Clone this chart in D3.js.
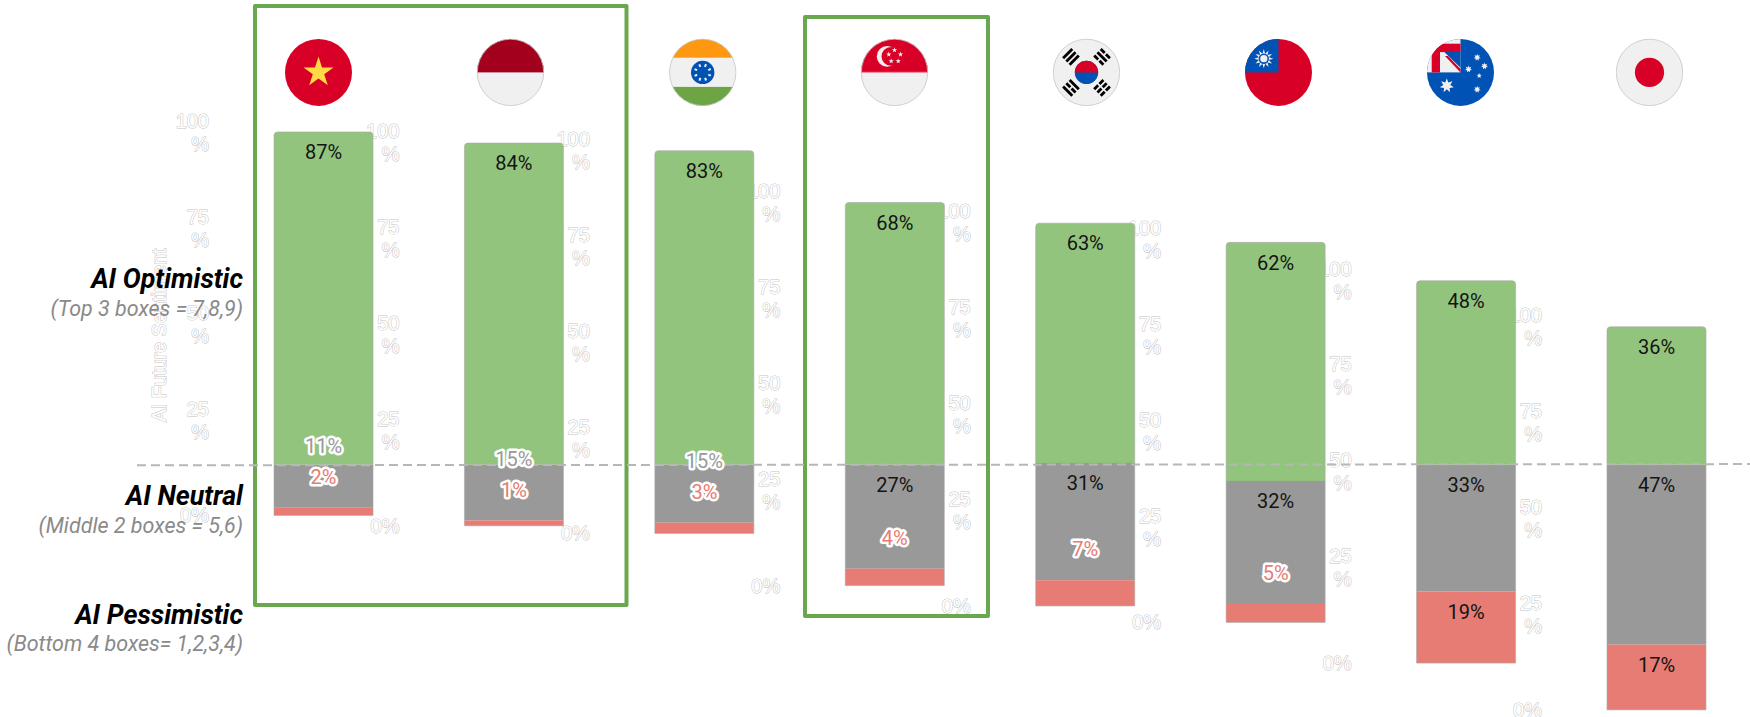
<!DOCTYPE html>
<html>
<head>
<meta charset="utf-8">
<title>AI Future Sentiment</title>
<script src="https://cdn.jsdelivr.net/npm/d3@7"></script>
<style>
  html, body { margin: 0; padding: 0; background: #fff; }
  svg { display: block; }
  .tick-text, .axis-title { font-family: "Liberation Sans", sans-serif; fill: #fff; stroke: #c4c4c4; stroke-width: 1px; paint-order: stroke; }
  .bar-label { font-family: Roboto, sans-serif; font-size: 20px; text-anchor: middle; fill: #141414; }
  .bar-label.halo { stroke: #fff; stroke-width: 5px; stroke-linejoin: round; paint-order: stroke; }
</style>
</head>
<body>
<div id="container"></div>
<script>
/* DATA */
const categories = ["Vietnam", "Indonesia", "India", "Singapore", "South Korea", "Taiwan", "Australia", "Japan"]
const optimistic = [86.8, 83.9, 81.9, 68.4, 62.5, 62.2, 48.0, 36.0]
const neutral = [11.2, 14.5, 15.1, 27.1, 30.6, 32.1, 33.0, 46.9]
const pessimistic = [2.0, 1.4, 2.8, 4.4, 6.7, 4.8, 18.7, 17.0]
const optimisticLabels = ["87%", "84%", "83%", "68%", "63%", "62%", "48%", "36%"]
const neutralLabels = ["11%", "15%", "15%", "27%", "31%", "32%", "33%", "47%"]
const pessimisticLabels = ["2%", "1%", "3%", "4%", "7%", "5%", "19%", "17%"]
// how far (in % points) each stack hangs off the dashed line, most of them sit right on it
const lineOffset = [0, 0, 0, 0, -0.5, 4.2, 0, 0]
const axisTicks = [0, 25, 50, 75, 100]
const sentimentTitles = ["AI Optimistic", "AI Neutral", "AI Pessimistic"]
const sentimentNotes = ["(Top 3 boxes = 7,8,9)", "(Middle 2 boxes = 5,6)", "(Bottom 4 boxes= 1,2,3,4)"]
const axisTitle = "AI Future Sentiment"

/* CONSTANTS AND GLOBALS */
const width = 1750
const height = 717
const lineY = 464.8
const fullBar = 383.5 // px for 100%
const green = "#93c47d", gray = "#999999", red = "#e67c73"
const flagX = [318.5, 510.5, 702.7, 894.5, 1086.5, 1278.5, 1460.5, 1649.5]
const flagY = 72.4
const flagR = 33.5

const svg = d3.select("#container")
  .append("svg")
  .attr("width", width)
  .attr("height", height)

/* SCALES */
const xScale = d3.scaleBand()
  .domain(categories)
  .range([274, 1706])
  .paddingInner(.48)

const barHeight = d3.scaleLinear()
  .domain([0, 100])
  .range([0, fullBar])

// every country gets its own y scale because the stacks are shifted around the line
const bottoms = categories.map((c, i) => lineY + barHeight(neutral[i] + pessimistic[i] + lineOffset[i]))
const yScales = bottoms.map(b => d3.scaleLinear().domain([0, 100]).range([b, b - fullBar]))

/* AXES */
const axisLayer = svg.append("g")
categories.forEach((c, i) => {
  const axis = d3.axisLeft(yScales[i])
    .tickValues(axisTicks)
    .tickSize(0)
    .tickPadding(0)
    .tickFormat(d => d + "%")

  const g = axisLayer.append("g")
    .attr("transform", `translate(${xScale(c) - 65},0)`)
    .call(axis)
    .attr("font-family", null)
    .attr("font-size", null)
  g.select(".domain").remove()

  // labels wider than the axis space wrap, the % falls on a second line
  g.selectAll(".tick text")
    .attr("class", "tick-text")
    .style("font-size", "20px")
    .attr("dy", null)
    .each(function (d) {
      const t = d3.select(this).text("")
      if (d === 0) {
        t.append("tspan").attr("x", 0).attr("dy", 6.5).text("0%")
      } else {
        t.append("tspan").attr("x", 0).attr("dy", -4.5).text(d)
        t.append("tspan").attr("x", 0).attr("dy", 23).text("%")
      }
    })
})

svg.append("text")
  .attr("class", "axis-title")
  .attr("transform", "translate(166,422) rotate(-90)")
  .style("font-size", "19.5px")
  .text(axisTitle)

/* FLAGS */
const star = (n, R, r, cx = 0, cy = 0) => d3.range(n * 2).map(k => {
  const a = Math.PI * k / n - Math.PI / 2
  const rad = k % 2 ? r : R
  return [cx + rad * Math.cos(a), cy + rad * Math.sin(a)].join(",")
}).join(" ")

const flagDefs = svg.append("defs")
flagDefs.append("clipPath").attr("id", "flag-clip")
  .append("circle").attr("r", flagR)

const flagColors = { red: "#d80027", blue: "#0052b4", white: "#f0f0f0", yellow: "#ffda44", orange: "#ff9811", leaf: "#6da544", maroon: "#a2001d" }

const drawFlag = {
  Vietnam: g => {
    g.append("rect").call(box, -34, -34, 68, 68, flagColors.red)
    g.append("polygon").attr("points", star(5, 15.8, 6)).attr("fill", flagColors.yellow)
  },
  Indonesia: g => {
    g.append("rect").call(box, -34, -34, 68, 68, flagColors.white)
    g.append("rect").call(box, -34, -34, 68, 34, flagColors.maroon)
  },
  India: g => {
    g.append("rect").call(box, -34, -34, 68, 68, flagColors.white)
    g.append("rect").call(box, -34, -34, 68, 19.3, flagColors.orange)
    g.append("rect").call(box, -34, 14.5, 68, 20, flagColors.leaf)
    g.append("circle").attr("r", 11.7).attr("fill", flagColors.blue)
    d3.range(8).forEach(k => {
      g.append("rect").call(box, -1, -8.8, 2, 2.8, flagColors.white)
        .attr("transform", `rotate(${k * 45 + 22})`)
    })
  },
  Singapore: g => {
    g.append("rect").call(box, -34, -34, 68, 68, flagColors.white)
    g.append("rect").call(box, -34, -34, 68, 34, flagColors.red)
    g.append("rect").call(box, -34, -0.6, 68, 1, "#ef8da0")
    g.append("circle").attr("cx", -7.4).attr("cy", -16).attr("r", 10.3).attr("fill", flagColors.white)
    g.append("circle").attr("cx", -3.6).attr("cy", -16).attr("r", 9.4).attr("fill", flagColors.red)
    ;[[0, -22.3], [-5.7, -18], [6, -18], [-3.3, -11.3], [3.7, -11.3]].forEach(p => {
      g.append("polygon").attr("points", star(5, 2.8, 1.1, p[0], p[1])).attr("fill", flagColors.white)
    })
  },
  "South Korea": g => {
    g.append("rect").call(box, -34, -34, 68, 68, flagColors.white)
    g.append("circle").attr("r", 11.7).attr("fill", flagColors.blue)
    g.append("path").attr("d", "M-11.7,0A11.7,11.7 0 0 1 11.7,0Z").attr("fill", flagColors.red)
    // trigrams, 1 = solid bar, 0 = broken bar
    const trigrams = [[-45, [1, 1, 1]], [45, [0, 1, 0]], [-135, [1, 0, 1]], [135, [0, 0, 0]]]
    trigrams.forEach(([angle, bars]) => {
      const t = g.append("g").attr("transform", `rotate(${angle}) translate(0,-22)`)
      bars.forEach((solid, b) => {
        const by = (b - 1) * 4.6 - 1.4
        if (solid) t.append("rect").call(box, -6.5, by, 13, 2.8, "#000")
        else {
          t.append("rect").call(box, -6.5, by, 5.6, 2.8, "#000")
          t.append("rect").call(box, 0.9, by, 5.6, 2.8, "#000")
        }
      })
    })
  },
  Taiwan: g => {
    g.append("rect").call(box, -34, -34, 68, 68, flagColors.red)
    g.append("rect").call(box, -34, -34, 34, 34, flagColors.blue)
    g.append("polygon").attr("points", star(12, 9.6, 5.2, -14.7, -13.7)).attr("fill", flagColors.white)
    g.append("circle").attr("cx", -14.7).attr("cy", -13.7).attr("r", 5.2).attr("fill", flagColors.blue)
    g.append("circle").attr("cx", -14.7).attr("cy", -13.7).attr("r", 3.6).attr("fill", flagColors.white)
  },
  Australia: g => {
    g.append("rect").call(box, -34, -34, 68, 68, flagColors.blue)
    g.append("rect").call(box, -34, -34, 34, 34, flagColors.white)
    g.append("rect").call(box, -28.8, -28.7, 28.8, 8.4, flagColors.red)
    g.append("rect").call(box, -28.8, -28.7, 8.3, 28.7, flagColors.red)
    g.append("polygon").attr("points", "-16.2,-20.3 0,-20.3 0,-4.7").attr("fill", flagColors.blue)
    g.append("polygon").attr("points", "-15.5,-16.5 -12.5,-16.5 0,-3.5 0,0").attr("fill", flagColors.red)
    g.append("polygon").attr("points", star(7, 7.2, 3.6, -13.7, 13.3)).attr("fill", flagColors.white)
    ;[[16.7, -15], [24, -6.3], [8, -3.3], [16.7, 17]].forEach(p => {
      g.append("polygon").attr("points", star(7, 3.6, 1.8, p[0], p[1])).attr("fill", flagColors.white)
    })
    g.append("polygon").attr("points", star(5, 2.8, 1.2, 18.7, 3.3)).attr("fill", flagColors.white)
  },
  Japan: g => {
    g.append("rect").call(box, -34, -34, 68, 68, flagColors.white)
    g.append("circle").attr("r", 14.6).attr("fill", flagColors.red)
  }
}

function box(sel, x, y, w, h, fill) {
  sel.attr("x", x).attr("y", y).attr("width", w).attr("height", h).attr("fill", fill)
}

categories.forEach((c, i) => {
  const outer = svg.append("g").attr("transform", `translate(${flagX[i]},${flagY})`)
  const g = outer.append("g").attr("clip-path", "url(#flag-clip)")
  drawFlag[c](g)
  if (["Indonesia", "India", "Singapore", "South Korea", "Japan"].includes(c)) {
    outer.append("circle").attr("r", flagR - .3).attr("fill", "none").attr("stroke", "#c8c8c8").attr("stroke-width", .8)
  }
})

/* BARS */
// green segment has the only rounded corners
const roundedTop = (x, y, w, h, r) => {
  const p = d3.path()
  p.moveTo(x, y + h)
  p.lineTo(x, y + r)
  p.arcTo(x, y, x + r, y, r)
  p.lineTo(x + w - r, y)
  p.arcTo(x + w, y, x + w, y + r, r)
  p.lineTo(x + w, y + h)
  p.closePath()
  return p.toString()
}

const rows = categories.map((c, i) => {
  const y = yScales[i]
  const redTop = y(pessimistic[i])
  const grayTop = y(pessimistic[i] + neutral[i])
  const greenTop = y(pessimistic[i] + neutral[i] + optimistic[i])
  return { c, i, bottom: y(0), redTop, grayTop, greenTop }
})

const bars = svg.append("g")

bars.selectAll("path.optimistic")
  .data(rows)
  .join("path")
  .attr("class", "optimistic")
  .attr("d", d => roundedTop(xScale(d.c), d.greenTop, xScale.bandwidth(), d.grayTop - d.greenTop, 3.5))
  .attr("fill", green)

bars.selectAll("rect.neutral")
  .data(rows)
  .join("rect")
  .attr("class", "neutral")
  .attr("x", d => xScale(d.c))
  .attr("y", d => d.grayTop)
  .attr("width", xScale.bandwidth())
  .attr("height", d => d.redTop - d.grayTop)
  .attr("fill", gray)

bars.selectAll("rect.pessimistic")
  .data(rows)
  .join("rect")
  .attr("class", "pessimistic")
  .attr("x", d => xScale(d.c))
  .attr("y", d => d.redTop)
  .attr("width", xScale.bandwidth())
  .attr("height", d => d.bottom - d.redTop)
  .attr("fill", red)

// thin grey edge round the whole stack
bars.selectAll("path.edge")
  .data(rows)
  .join("path")
  .attr("class", "edge")
  .attr("d", d => roundedTop(xScale(d.c), d.greenTop, xScale.bandwidth(), d.bottom - d.greenTop, 3.5))
  .attr("fill", "none")
  .attr("stroke", "#aaa")
  .attr("stroke-opacity", .6)
  .attr("stroke-width", 1)

/* HIGHLIGHT BOXES */
const boxes = [[255, 6, 371.5, 599], [805, 17, 183, 599]]
svg.selectAll("rect.highlight")
  .data(boxes)
  .join("rect")
  .attr("class", "highlight")
  .attr("x", d => d[0])
  .attr("y", d => d[1])
  .attr("width", d => d[2])
  .attr("height", d => d[3])
  .attr("fill", "none")
  .attr("stroke", "#6aa84f")
  .attr("stroke-width", 4)
  .attr("stroke-linejoin", "round")

/* DASHED LINE */
svg.append("line")
  .attr("x1", 137)
  .attr("x2", width)
  .attr("y1", 465.3)
  .attr("y2", 464.1)
  .attr("stroke", "#b7b7b7")
  .attr("stroke-width", 2)
  .attr("stroke-dasharray", "9,5")

/* LABELS */
// small segments push their label up above the segment, with a white halo so it stays readable
const labelLayer = svg.append("g")
rows.forEach(d => {
  const cx = xScale(d.c) + xScale.bandwidth() / 2
  const fitsRed = d.bottom - d.redTop > 40
  const redY = fitsRed ? d.redTop + 20 : d.redTop - 31
  const fitsGray = redY - (d.grayTop + 20) > 31
  const grayY = fitsGray ? d.grayTop + 20 : redY - 31

  labelLayer.append("text").attr("class", "bar-label")
    .attr("x", cx).attr("y", d.greenTop + 20).attr("dy", ".36em")
    .text(optimisticLabels[d.i])

  labelLayer.append("text").attr("class", fitsGray ? "bar-label" : "bar-label halo")
    .attr("x", cx).attr("y", grayY).attr("dy", ".36em")
    .style("fill", fitsGray ? null : gray)
    .text(neutralLabels[d.i])

  labelLayer.append("text").attr("class", fitsRed ? "bar-label" : "bar-label halo")
    .attr("x", cx).attr("y", redY).attr("dy", ".36em")
    .style("fill", fitsRed ? null : red)
    .text(pessimisticLabels[d.i])
})

/* LEFT SIDE LEGEND */
const titleBaselines = [288, 505, 624]
const noteBaselines = [315.5, 533, 651]

svg.selectAll("text.sentiment-title")
  .data(sentimentTitles)
  .join("text")
  .attr("class", "sentiment-title")
  .attr("x", 243)
  .attr("y", (d, i) => titleBaselines[i])
  .attr("text-anchor", "end")
  .style("font-family", "Roboto, sans-serif")
  .style("font-weight", 700)
  .style("font-style", "italic")
  .style("font-size", "26.8px")
  .attr("fill", "#000")
  .text(d => d)

svg.selectAll("text.sentiment-note")
  .data(sentimentNotes)
  .join("text")
  .attr("class", "sentiment-note")
  .attr("x", 243)
  .attr("y", (d, i) => noteBaselines[i])
  .attr("text-anchor", "end")
  .style("font-family", "Roboto, sans-serif")
  .style("font-style", "italic")
  .style("font-size", "21.5px")
  .attr("fill", "#8a8a8a")
  .text(d => d)
</script>
</body>
</html>
